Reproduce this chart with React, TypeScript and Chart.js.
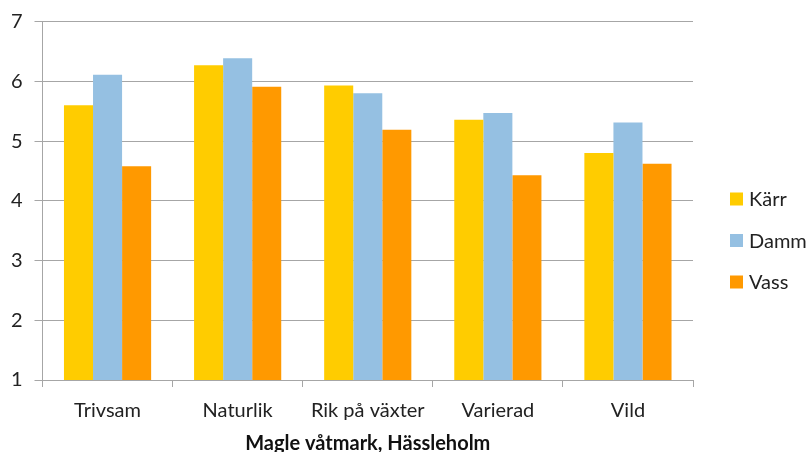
import React, { useEffect, useRef } from "react";
import { Chart, registerables } from "chart.js";

Chart.register(...registerables);

const categories = ["Trivsam", "Naturlik", "Rik på växter", "Varierad", "Vild"];
const karr = [5.6, 6.27, 5.93, 5.36, 4.8];
const damm = [6.11, 6.39, 5.8, 5.47, 5.31];
const vass = [4.58, 5.91, 5.19, 4.43, 4.62];
const seriesNames = ["Kärr", "Damm", "Vass"];
const yTicks = [1, 2, 3, 4, 5, 6, 7];
const xTitle = "Magle våtmark, Hässleholm";

const FONT = "Lato, 'Liberation Sans', sans-serif";
const GRID = "#A6A6A6";
const TEXT = "#222222";

const legendPlugin = {
  id: "sideLegend",
  afterDraw(chart: any) {
    const ctx = chart.ctx;
    ctx.save();
    ctx.font = `20px ${FONT}`;
    ctx.textBaseline = "middle";
    ctx.textAlign = "left";
    chart.data.datasets.forEach((ds: any, i: number) => {
      const cy = 199 + i * 41.5;
      ctx.fillStyle = ds.backgroundColor;
      ctx.fillRect(730, cy - 6.5, 13, 13);
      ctx.fillStyle = TEXT;
      ctx.fillText(ds.label, 749, cy + 1);
    });
    ctx.restore();
  },
};

export default function App() {
  const ref = useRef<HTMLCanvasElement>(null);
  useEffect(() => {
    if (!ref.current) return;
    const chart = new Chart(ref.current, {
      type: "bar",
      data: {
        labels: categories,
        datasets: [
          { label: seriesNames[0], data: karr, backgroundColor: "#FFCC00" },
          { label: seriesNames[1], data: damm, backgroundColor: "#95C0E2" },
          { label: seriesNames[2], data: vass, backgroundColor: "#FF9900" },
        ],
      },
      plugins: [legendPlugin],
      options: {
        animation: false,
        responsive: false,
        devicePixelRatio: 1,
        layout: { padding: { top: 0, right: 117, bottom: 0, left: 0 } },
        datasets: { bar: { categoryPercentage: 0.67, barPercentage: 1.0 } },
        plugins: { legend: { display: false }, tooltip: { enabled: false } },
        scales: {
          x: {
            grid: { drawOnChartArea: false, color: GRID, tickLength: 7, offset: true },
            border: { color: GRID },
            ticks: { color: TEXT, font: { family: FONT, size: 20 }, padding: 12, maxRotation: 0 },
            title: {
              display: true,
              text: xTitle,
              color: "#111111",
              font: { family: FONT, size: 20, weight: "bold", lineHeight: 0.85 },
              padding: { top: 4, bottom: 0 },
            },
            afterFit(scale: any) {
              scale.height = 72;
            },
          },
          y: {
            min: 1,
            max: 7,
            afterBuildTicks(scale: any) {
              scale.ticks = yTicks.map((v) => ({ value: v }));
            },
            grid: { color: GRID, tickLength: 8 },
            border: { color: GRID },
            ticks: { color: TEXT, font: { family: FONT, size: 20 }, padding: 12 },
            afterFit(scale: any) {
              scale.width = 42.5;
              scale.paddingTop = 21.7;
              scale.paddingBottom = 0;
            },
          },
        },
      } as any,
    });
    return () => chart.destroy();
  }, []);
  return (
    <div style={{ position: "fixed", left: 0, top: 0, width: 810, height: 452, background: "#fff" }}>
      <canvas ref={ref} width={810} height={452} style={{ width: 810, height: 452 }} />
    </div>
  );
}
